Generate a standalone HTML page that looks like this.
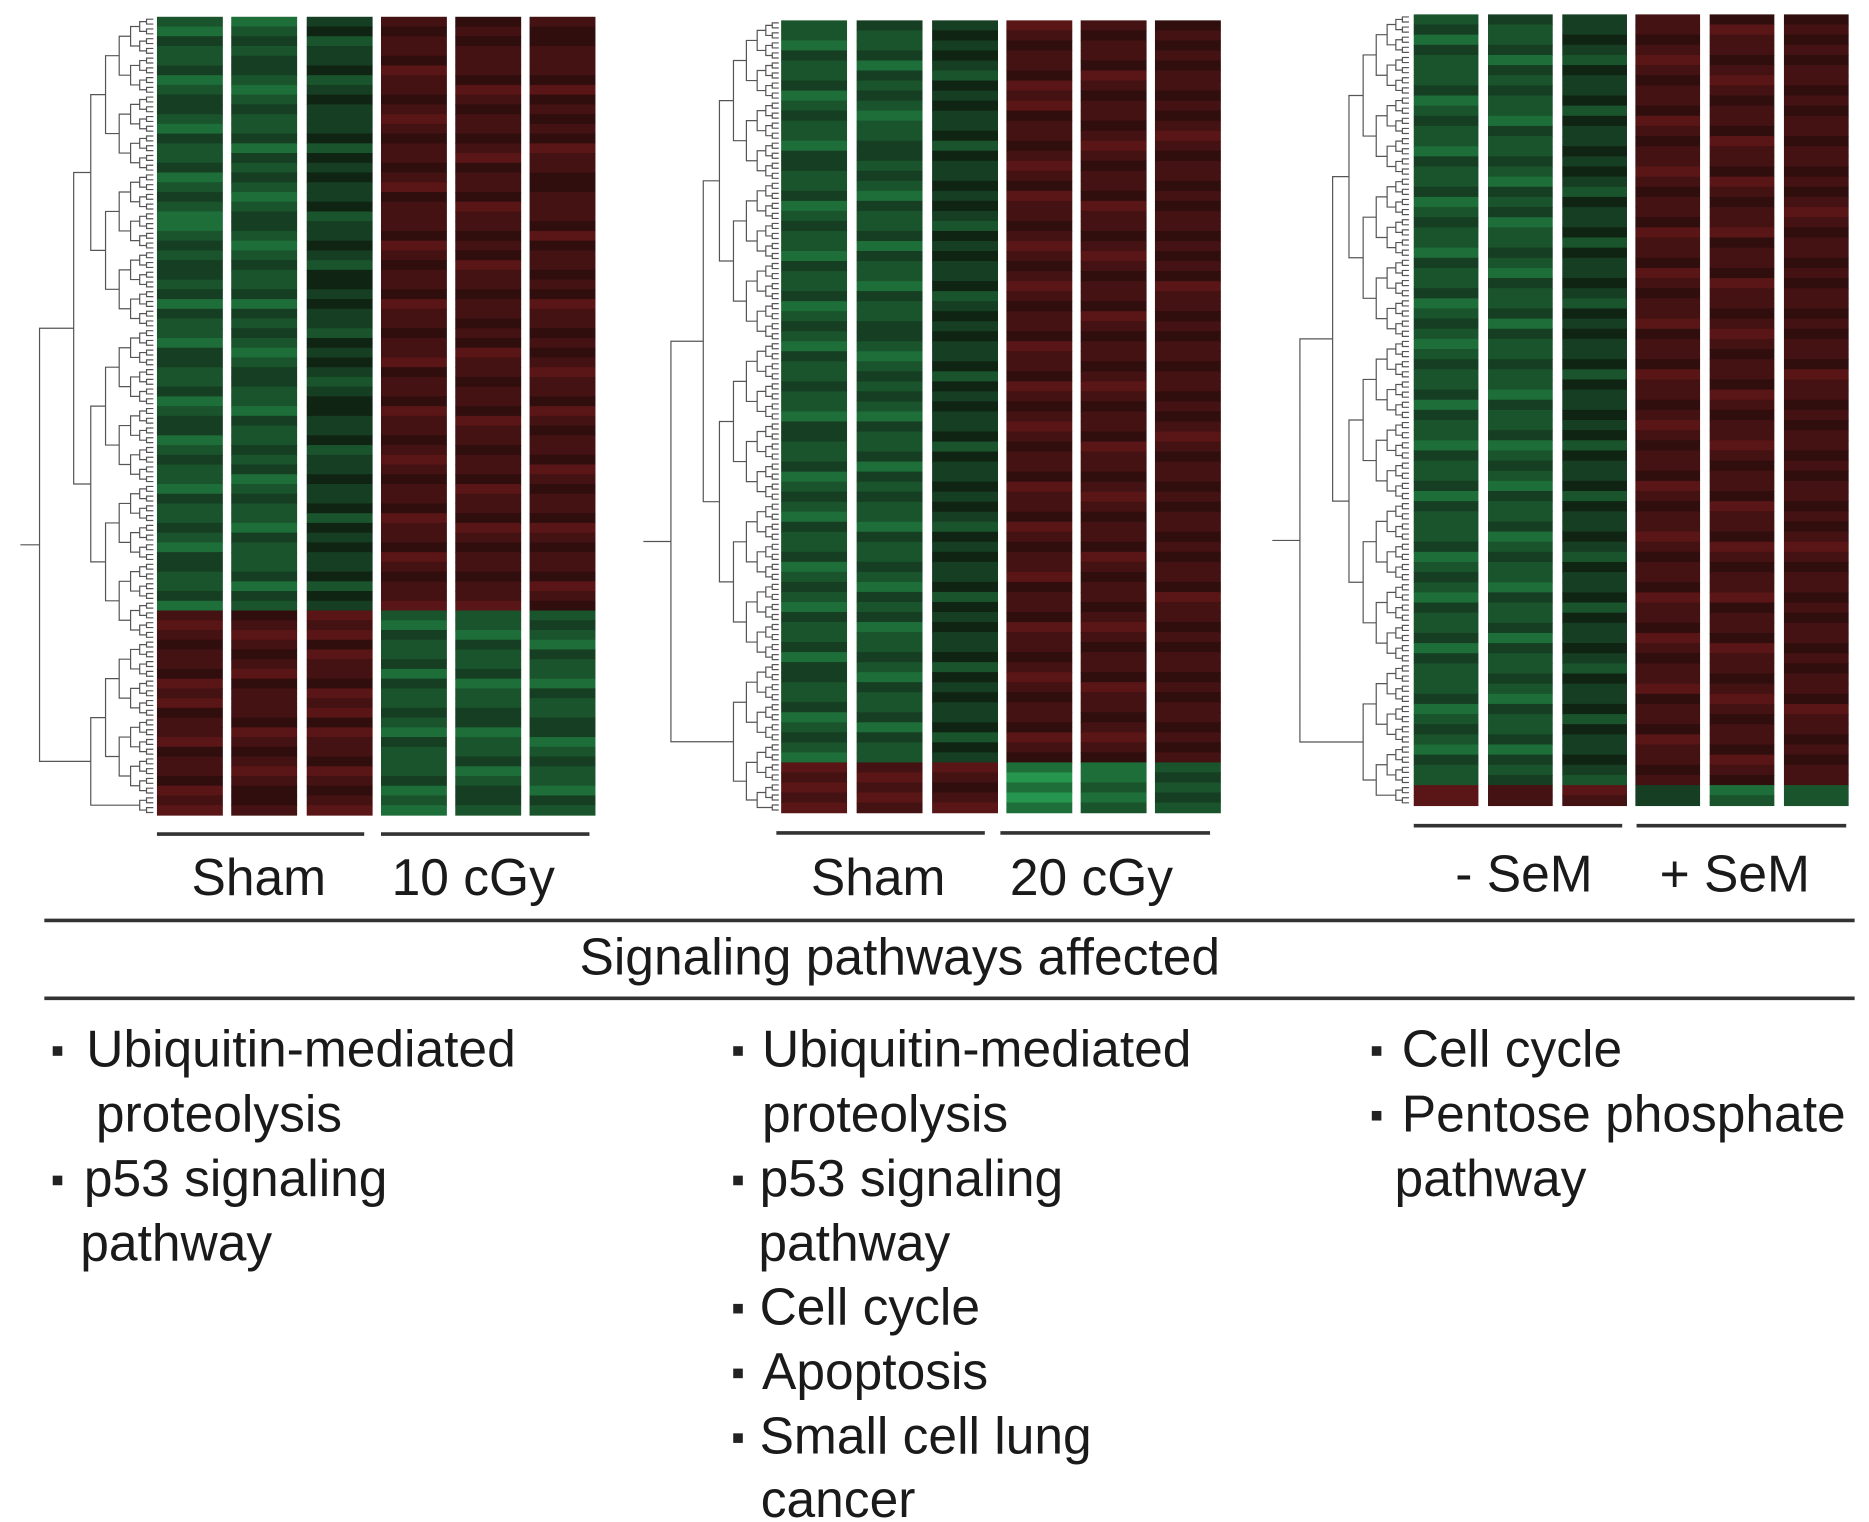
<!DOCTYPE html>
<html><head><meta charset="utf-8"><style>
html,body{margin:0;padding:0;background:#fff}
svg{display:block}
text{font-family:"Liberation Sans",sans-serif;fill:#1a1a1a}
</style></head><body>
<svg id="fig" width="1869" height="1522" viewBox="0 0 1560 1270" preserveAspectRatio="none" xmlns="http://www.w3.org/2000/svg">
<g id="heat"></g>
<g id="dend" stroke="#555" stroke-width="1" fill="none"></g>
<g stroke="#333" stroke-width="3">
<line x1="131" y1="696" x2="304" y2="696"/><line x1="318" y1="696" x2="492" y2="696"/>
<line x1="648" y1="695" x2="822" y2="695"/><line x1="835" y1="695" x2="1010" y2="695"/>
<line x1="1180" y1="689" x2="1354" y2="689"/><line x1="1366" y1="689" x2="1541" y2="689"/>
</g>
<g font-size="43" text-anchor="middle">
<text x="216" y="747">Sham</text>
<text x="395" y="747">10 cGy</text>
<text x="733" y="747">Sham</text>
<text x="911" y="747">20 cGy</text>
<text x="1272" y="744">- SeM</text>
<text x="1448" y="744">+ SeM</text>
</g>
<line x1="37" y1="768" x2="1548" y2="768" stroke="#333" stroke-width="3"/>
<line x1="37" y1="833" x2="1548" y2="833" stroke="#333" stroke-width="3"/>
<text x="751" y="813" font-size="43" text-anchor="middle">Signaling pathways affected</text>
<g fill="#222">
<rect x="44" y="873" width="8" height="8"/><rect x="44" y="981" width="8" height="8"/>
<rect x="612" y="873" width="8" height="8"/><rect x="612" y="981" width="8" height="8"/>
<rect x="612" y="1088" width="8" height="8"/><rect x="612" y="1142" width="8" height="8"/><rect x="612" y="1196" width="8" height="8"/>
<rect x="1145" y="873" width="8" height="8"/><rect x="1145" y="927" width="8" height="8"/>
</g>
<g font-size="43">
<text x="72" y="890">Ubiquitin-mediated</text>
<text x="80" y="944">proteolysis</text>
<text x="70" y="998">p53 signaling</text>
<text x="67" y="1052">pathway</text>
<text x="636" y="890">Ubiquitin-mediated</text>
<text x="636" y="944">proteolysis</text>
<text x="634" y="998">p53 signaling</text>
<text x="633" y="1052">pathway</text>
<text x="634" y="1105">Cell cycle</text>
<text x="636" y="1159">Apoptosis</text>
<text x="634" y="1213">Small cell lung</text>
<text x="635" y="1266">cancer</text>
<text x="1170" y="890">Cell cycle</text>
<text x="1170" y="944">Pentose phosphate</text>
<text x="1164" y="998">pathway</text>
</g>
</svg>
<script>
// expression levels: 0=bright green ... 4=near black ... 9=bright red
const p1Cols = [
"2132231233213223123211232332313221332231233123221322321332231"+"676566576756675665767",
"1232332123223132321233212322313232123322132232312322132223132"+"567656756665765676556",
"3423342343334243433423343244343324343234433423343342434334243"+"767576657675766576567",
"6566576656765665675666576566576656675665766567656657665765667"+"213223132232132223121",
"5656665765665675665766565766566565766566576656657665765665667"+"221322312233122312332",
"6556665756565766556665756656576656567665765665765665765665765"+"232132213223312322132"];
const p2Cols = [
"22132231232213322312322132231232132232213322312321322312321322313322312321"+"76767",
"32231323212233232132231322132233212323213223132322132232132312232132231322"+"67676",
"34343243433424334343243433423434334243433424334343243433424343342434334243"+"76567",
"76566576756656765766567656765665766576567656657665765667566576656765665765"+"10101",
"65665765665676566576656765665765665676566576656765665765665676566576656765"+"11212",
"56565665656765665656656565766565665665656765665656656566576656566565665656"+"23232"];
const p3Cols = [
"2313222312322132231232213223123212322313221322313222312321322313222312321322"+"77",
"3223132322132232132312232132231322322132231232132231232213223132232132231323"+"66",
"3343243342433434324334243343243433424334342433424334324334243343243342433432"+"76",
"6656765665765667656657665765667566576656765665765667656657665765667566576656"+"33",
"5766567656657665765667566576656765665765667656657665765667566576656765665765"+"12",
"5656566565665665656765665656656566576656566565665656765665656656566576656566"+"22"];
const panels = [
 {cols:p1Cols, x:[131,193,256,318,380,442], w:55, y0:14, y1:680, rootX:33, leafX:128, rootStub:17},
 {cols:p2Cols, x:[652,715,778,840,902,964], w:55, y0:17, y1:678, rootX:560, leafX:650, rootStub:537},
 {cols:p3Cols, x:[1180,1242,1304,1365,1427,1489], w:54, y0:12, y1:672, rootX:1085, leafX:1176, rootStub:1062}];

const greens=[[38,150,78],[30,110,58],[26,84,44],[22,62,34],[16,36,20]];
const reds=[[48,14,14],[68,18,18],[90,22,22],[118,24,24],[150,28,28]];
function color(d){
  const v=+d;
  const c = v<=4 ? greens[v] : reds[v-5];
  return `rgb(${c[0]},${c[1]},${c[2]})`;
}
const NS="http://www.w3.org/2000/svg";
const heat=document.getElementById('heat'), dend=document.getElementById('dend');
panels.forEach((p,pi)=>{
  p.cols.forEach((s,ci)=>{
    const h=(p.y1-p.y0)/s.length;
    for(let r=0;r<s.length;r++){
      const el=document.createElementNS(NS,'rect');
      
      
      el.setAttribute('x',p.x[ci]); el.setAttribute('y',(p.y0+r*h).toFixed(2));
      el.setAttribute('width',p.w); el.setAttribute('height',(h+0.6).toFixed(2));
      el.setAttribute('fill',color(s[r]));
      heat.appendChild(el);
    }
  });
  const n=p.cols[0].length*2, h=(p.y1-p.y0)/n;
  let nodes=[]; for(let i=0;i<n;i++) nodes.push({y:p.y0+(i+0.5)*h,x:p.leafX});
  let level=0; const span=p.leafX-p.rootX;
  const xs=[0.06,0.12,0.2,0.3,0.42,0.55,0.7,0.82];
  let d='';
  while(nodes.length>2){
    const nx=p.leafX-span*xs[Math.min(level,xs.length-1)];
    const next=[];
    for(let i=0;i<nodes.length;i+=2){
      if(i+1>=nodes.length){next.push(nodes[i]);continue;}
      const a=nodes[i],b=nodes[i+1];
      d+=`M${a.x},${a.y}H${nx}V${b.y}H${b.x}`;
      next.push({x:nx,y:(a.y+b.y)/2});
    }
    nodes=next; level++;
  }
  const a=nodes[0],b=nodes[1];
  d+=`M${a.x},${a.y}H${p.rootX}V${b.y}H${b.x}M${p.rootX},${(a.y+b.y)/2}H${p.rootStub}`;
  const path=document.createElementNS(NS,'path');
  
  
  path.setAttribute('d',d);
  dend.appendChild(path);
});
</script>
</body></html>
